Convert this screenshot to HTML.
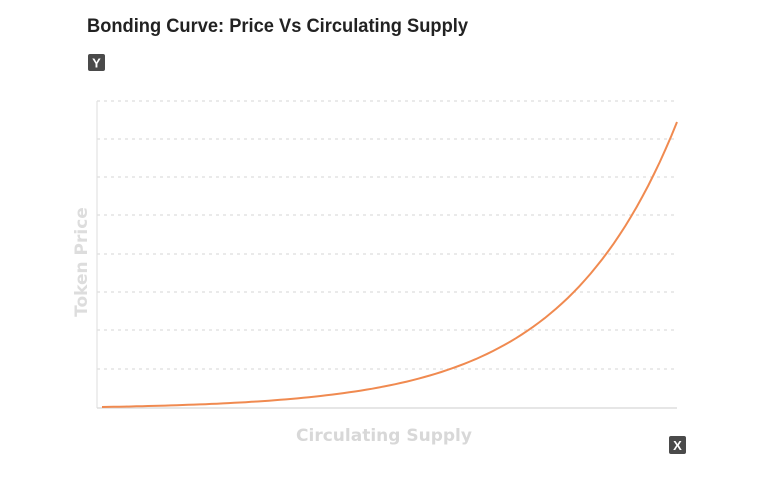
<!DOCTYPE html>
<html><head><meta charset="utf-8"><style>
body{margin:0;background:#fff;width:768px;height:487px;overflow:hidden;font-family:"Liberation Sans","DejaVu Sans",sans-serif}
</style></head><body>
<svg width="768" height="487" xmlns="http://www.w3.org/2000/svg">
<text x="87" y="32" font-size="19" font-weight="bold" font-family="Liberation Sans, sans-serif" fill="#222" textLength="381" lengthAdjust="spacingAndGlyphs">Bonding Curve: Price Vs Circulating Supply</text>
<rect x="88" y="54" width="17" height="17" rx="2" fill="#4a4a4a"/>
<text x="96.5" y="67.5" font-size="13" font-weight="bold" fill="#fff" text-anchor="middle">Y</text>
<g stroke="#ddd" stroke-width="1.2" stroke-dasharray="3,4">
<line x1="97" x2="677" y1="101" y2="101"/><line x1="97" x2="677" y1="139" y2="139"/>
<line x1="97" x2="677" y1="177" y2="177"/><line x1="97" x2="677" y1="215" y2="215"/>
<line x1="97" x2="677" y1="254" y2="254"/><line x1="97" x2="677" y1="292" y2="292"/>
<line x1="97" x2="677" y1="330" y2="330"/><line x1="97" x2="677" y1="369" y2="369"/>
</g>
<line x1="97" y1="101" x2="97" y2="408" stroke="#e2e2e2" stroke-width="1.2"/>
<line x1="97" y1="408" x2="677" y2="408" stroke="#ddd" stroke-width="1.5"/>
<path id="c" fill="none" stroke="#f08a50" stroke-width="2"/>
<text x="87" y="262" font-size="17" font-weight="bold" fill="#ddd" text-anchor="middle" transform="rotate(-90 87 262)" font-family="DejaVu Sans, Liberation Sans, sans-serif">Token Price</text>
<text x="384" y="441" font-size="17" font-weight="bold" fill="#d8d8d8" text-anchor="middle" font-family="DejaVu Sans, Liberation Sans, sans-serif">Circulating Supply</text>
<rect x="669" y="436" width="17" height="18" rx="2" fill="#4a4a4a"/>
<text x="677.5" y="450" font-size="13" font-weight="bold" fill="#fff" text-anchor="middle">X</text>
</svg>
<script>
var k=5.0,d="",den=Math.exp(k)-1;
for(var i=0;i<=100;i++){var t=i/100,x=102+575*t,y=407-285*(Math.exp(k*t)-1)/den;d+=(i?"L":"M")+x.toFixed(1)+","+y.toFixed(1);}
document.getElementById("c").setAttribute("d",d);
</script>
</body></html>
